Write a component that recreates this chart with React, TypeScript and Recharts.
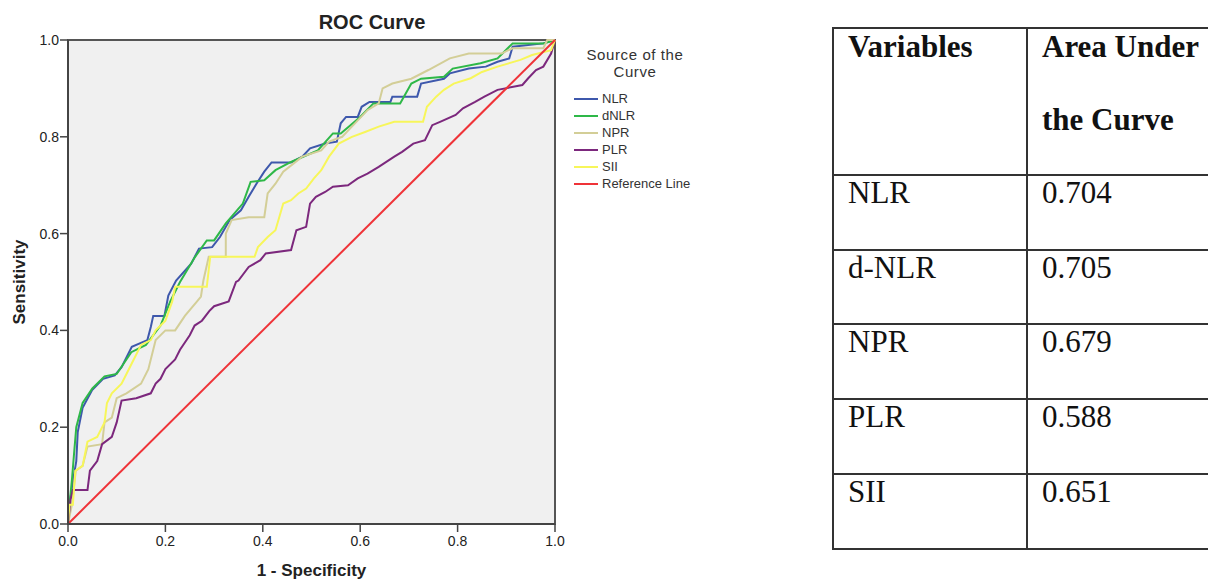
import React from 'react';
import { LineChart, Line, XAxis, YAxis, CartesianGrid, ReferenceArea } from 'recharts';

// ROC points as [1 - specificity, sensitivity]
const nlrPoints: number[][] = [
  [0, 0], [0.004, 0.05], [0.008, 0.07], [0.012, 0.1], [0.017, 0.13], [0.02, 0.19], [0.03, 0.24], [0.049, 0.276],
  [0.072, 0.3], [0.096, 0.307], [0.11, 0.324], [0.131, 0.366], [0.163, 0.38], [0.17, 0.407], [0.175, 0.43],
  [0.198, 0.43], [0.206, 0.472], [0.222, 0.503], [0.253, 0.538], [0.269, 0.569], [0.296, 0.572], [0.312, 0.593],
  [0.332, 0.628], [0.355, 0.648], [0.371, 0.676], [0.387, 0.703], [0.403, 0.728], [0.418, 0.747], [0.458, 0.747],
  [0.481, 0.759], [0.497, 0.776], [0.528, 0.786], [0.552, 0.79], [0.56, 0.828], [0.571, 0.841], [0.595, 0.841],
  [0.603, 0.862], [0.619, 0.872], [0.662, 0.872], [0.666, 0.883], [0.717, 0.883], [0.725, 0.91], [0.772, 0.92],
  [0.784, 0.931], [0.823, 0.941], [0.858, 0.945], [0.882, 0.955], [0.906, 0.962], [0.913, 0.986], [0.976, 0.993], [1, 1],
];

const dnlrPoints: number[][] = [
  [0, 0], [0.004, 0.05], [0.008, 0.09], [0.012, 0.14], [0.017, 0.2], [0.03, 0.25], [0.05, 0.28], [0.075, 0.305],
  [0.1, 0.31], [0.13, 0.355], [0.16, 0.37], [0.19, 0.41], [0.21, 0.46], [0.23, 0.5], [0.261, 0.552], [0.285, 0.586],
  [0.3, 0.586], [0.324, 0.621], [0.359, 0.662], [0.375, 0.707], [0.403, 0.71], [0.426, 0.731], [0.458, 0.748],
  [0.513, 0.772], [0.544, 0.807], [0.56, 0.807], [0.6, 0.841], [0.627, 0.869], [0.682, 0.869], [0.705, 0.91],
  [0.725, 0.92], [0.772, 0.924], [0.79, 0.941], [0.847, 0.952], [0.882, 0.962], [0.913, 0.993], [0.976, 0.993], [1, 1],
];

const nprPoints: number[][] = [
  [0, 0], [0.008, 0.04], [0.016, 0.11], [0.03, 0.12], [0.04, 0.16], [0.07, 0.165], [0.075, 0.21], [0.09, 0.22],
  [0.1, 0.26], [0.12, 0.27], [0.15, 0.29], [0.165, 0.32], [0.18, 0.38], [0.2, 0.4], [0.22, 0.4], [0.24, 0.43],
  [0.265, 0.46], [0.273, 0.47], [0.278, 0.503], [0.289, 0.552], [0.324, 0.552], [0.324, 0.6], [0.336, 0.628],
  [0.371, 0.634], [0.403, 0.634], [0.41, 0.683], [0.426, 0.703], [0.442, 0.728], [0.481, 0.759], [0.52, 0.772],
  [0.536, 0.79], [0.563, 0.8], [0.579, 0.817], [0.615, 0.855], [0.638, 0.869], [0.646, 0.9], [0.666, 0.91],
  [0.705, 0.92], [0.74, 0.938], [0.784, 0.962], [0.823, 0.972], [0.89, 0.972], [0.913, 0.983], [0.976, 0.983],
  [0.984, 1], [1, 1],
];

const plrPoints: number[][] = [
  [0, 0], [0.005, 0.05], [0.01, 0.07], [0.04, 0.07], [0.045, 0.11], [0.06, 0.13], [0.07, 0.165], [0.09, 0.18],
  [0.1, 0.21], [0.11, 0.255], [0.14, 0.26], [0.17, 0.27], [0.18, 0.29], [0.19, 0.3], [0.2, 0.32], [0.22, 0.34],
  [0.23, 0.36], [0.25, 0.39], [0.26, 0.41], [0.275, 0.42], [0.29, 0.44], [0.3, 0.45], [0.33, 0.46], [0.345, 0.5],
  [0.35, 0.503], [0.371, 0.531], [0.395, 0.545], [0.406, 0.559], [0.458, 0.566], [0.469, 0.607], [0.489, 0.614],
  [0.497, 0.662], [0.509, 0.676], [0.528, 0.686], [0.544, 0.697], [0.575, 0.7], [0.595, 0.714], [0.615, 0.724],
  [0.638, 0.738], [0.67, 0.759], [0.686, 0.769], [0.709, 0.786], [0.733, 0.793], [0.748, 0.824], [0.764, 0.831],
  [0.796, 0.845], [0.811, 0.859], [0.836, 0.872], [0.855, 0.883], [0.882, 0.897], [0.933, 0.907], [0.945, 0.921],
  [0.961, 0.938], [0.976, 0.945], [0.992, 0.972], [1, 1],
];

const siiPoints: number[][] = [
  [0, 0], [0.003, 0.04], [0.01, 0.04], [0.015, 0.11], [0.03, 0.12], [0.04, 0.17], [0.06, 0.18], [0.075, 0.21],
  [0.08, 0.25], [0.09, 0.27], [0.11, 0.29], [0.12, 0.31], [0.135, 0.34], [0.15, 0.37], [0.17, 0.38], [0.18, 0.4],
  [0.2, 0.42], [0.214, 0.46], [0.22, 0.49], [0.285, 0.49], [0.292, 0.552], [0.383, 0.552], [0.39, 0.572],
  [0.41, 0.593], [0.426, 0.607], [0.442, 0.662], [0.458, 0.669], [0.473, 0.683], [0.489, 0.693], [0.505, 0.714],
  [0.52, 0.731], [0.536, 0.759], [0.556, 0.786], [0.583, 0.8], [0.61, 0.81], [0.638, 0.821], [0.67, 0.831],
  [0.729, 0.831], [0.737, 0.862], [0.756, 0.883], [0.772, 0.897], [0.792, 0.91], [0.827, 0.921], [0.85, 0.934],
  [0.882, 0.945], [0.929, 0.959], [0.953, 0.969], [0.992, 0.979], [1, 1],
];

const referencePoints: number[][] = [[0, 0], [1, 1]];

const seriesNames = ['NLR', 'dNLR', 'NPR', 'PLR', 'SII', 'Reference Line'];
const seriesColors = ['#3E58AC', '#2EB848', '#D3CE97', '#7C287D', '#F7F65A', '#EF3338'];
const seriesPoints = [nlrPoints, dnlrPoints, nprPoints, plrPoints, siiPoints, referencePoints];

const axisTicks = [0, 0.2, 0.4, 0.6, 0.8, 1.0];

const tableHeader = ['Variables', 'Area Under the Curve'];
const tableVariables = ['NLR', 'd-NLR', 'NPR', 'PLR', 'SII'];
const tableAuc = ['0.704', '0.705', '0.679', '0.588', '0.651'];

const sans = '"Liberation Sans", Arial, sans-serif';
const serif = '"Liberation Serif", "Times New Roman", serif';

function toRows(points: number[][]) {
  return points.map(([x, y]) => ({ x, y }));
}

function Legend() {
  return (
    <div style={{ position: 'absolute', left: 572, top: 46, fontFamily: sans, color: '#333' }}>
      <div style={{ width: 126, textAlign: 'center', fontSize: 15, lineHeight: '17px', letterSpacing: 0.6 }}>
        Source of the
        <br />
        Curve
      </div>
      <div style={{ marginTop: 10 }}>
        {seriesNames.map((n, i) => (
          <div key={n} style={{ display: 'flex', alignItems: 'center', height: 17, fontSize: 13 }}>
            <div style={{ width: 24, height: 2, background: seriesColors[i], marginLeft: 2, marginRight: 4 }} />
            <span>{n}</span>
          </div>
        ))}
      </div>
    </div>
  );
}

function AucTable() {
  const left = 832;
  const mid = 1026;
  const top = 27;
  const lines = [174, 249, 323, 398, 473, 548];
  const border = '#333';
  const textStyle: React.CSSProperties = {
    position: 'absolute',
    fontFamily: serif,
    fontSize: 31,
    lineHeight: '31px',
    color: '#111',
    whiteSpace: 'nowrap',
  };
  return (
    <>
      <div style={{ position: 'absolute', left, top, width: 1300 - left, height: 1.5, background: border }} />
      {lines.map((y) => (
        <div key={y} style={{ position: 'absolute', left, top: y, width: 1300 - left, height: 1.5, background: border }} />
      ))}
      <div style={{ position: 'absolute', left, top, width: 1.5, height: 548 - top + 1.5, background: border }} />
      <div style={{ position: 'absolute', left: mid, top, width: 1.5, height: 548 - top + 1.5, background: border }} />
      <div style={{ ...textStyle, left: left + 16, top: 31, fontWeight: 'bold' }}>{tableHeader[0]}</div>
      <div style={{ ...textStyle, left: mid + 16, top: 31, fontWeight: 'bold' }}>Area Under</div>
      <div style={{ ...textStyle, left: mid + 16, top: 104, fontWeight: 'bold' }}>the Curve</div>
      {tableVariables.map((v, i) => (
        <React.Fragment key={v}>
          <div style={{ ...textStyle, left: left + 16, top: lines[i] + 3 }}>{v}</div>
          <div style={{ ...textStyle, left: mid + 16, top: lines[i] + 3 }}>{tableAuc[i]}</div>
        </React.Fragment>
      ))}
    </>
  );
}

export default function App() {
  return (
    <div style={{ position: 'absolute', left: 0, top: 0, width: 1208, height: 581, overflow: 'hidden', background: '#fff' }}>
      <div
        style={{
          position: 'absolute',
          left: 272,
          width: 200,
          top: 10,
          textAlign: 'center',
          fontFamily: sans,
          fontWeight: 'bold',
          fontSize: 20,
          lineHeight: '24px',
          color: '#222',
        }}
      >
        ROC Curve
      </div>
      <div style={{ position: 'absolute', left: 0, top: 0 }}>
        <LineChart width={720} height={581} margin={{ top: 40, right: 165, bottom: 0, left: 0 }}>
          <CartesianGrid fill="#F0F0F0" horizontal={false} vertical={false} />
          <XAxis
            type="number"
            dataKey="x"
            domain={[0, 1]}
            ticks={axisTicks}
            tickFormatter={(v: number) => v.toFixed(1)}
            height={57}
            tickSize={8}
            tickMargin={4}
            axisLine={{ stroke: '#444', strokeWidth: 2 }}
            tickLine={{ stroke: '#444', strokeWidth: 1.5 }}
            tick={{ fill: '#222', fontSize: 14, fontFamily: sans }}
            label={{
              value: '1 - Specificity',
              position: 'insideBottom',
              offset: 5,
              style: { fill: '#222', fontSize: 17, fontWeight: 'bold', fontFamily: sans },
            }}
            allowDuplicatedCategory={false}
          />
          <YAxis
            type="number"
            dataKey="y"
            domain={[0, 1]}
            ticks={axisTicks}
            tickFormatter={(v: number) => v.toFixed(1)}
            width={68}
            tickSize={8}
            tickMargin={1}
            axisLine={{ stroke: '#444', strokeWidth: 2 }}
            tickLine={{ stroke: '#444', strokeWidth: 1.5 }}
            tick={{ fill: '#222', fontSize: 14, fontFamily: sans }}
            label={{
              value: 'Sensitivity',
              angle: -90,
              position: 'insideLeft',
              offset: 19,
              style: { fill: '#222', fontSize: 17, fontWeight: 'bold', fontFamily: sans, textAnchor: 'middle' },
            }}
          />
          <ReferenceArea x1={0} x2={1} y1={0} y2={1} fill="none" stroke="#555" strokeWidth={2} ifOverflow="visible" />
          {seriesNames.map((n, i) => (
            <Line
              key={n}
              name={n}
              data={toRows(seriesPoints[i])}
              dataKey="y"
              type="linear"
              stroke={seriesColors[i]}
              strokeWidth={2}
              dot={false}
              activeDot={false}
              isAnimationActive={false}
            />
          ))}
        </LineChart>
      </div>
      <Legend />
      <AucTable />
    </div>
  );
}
